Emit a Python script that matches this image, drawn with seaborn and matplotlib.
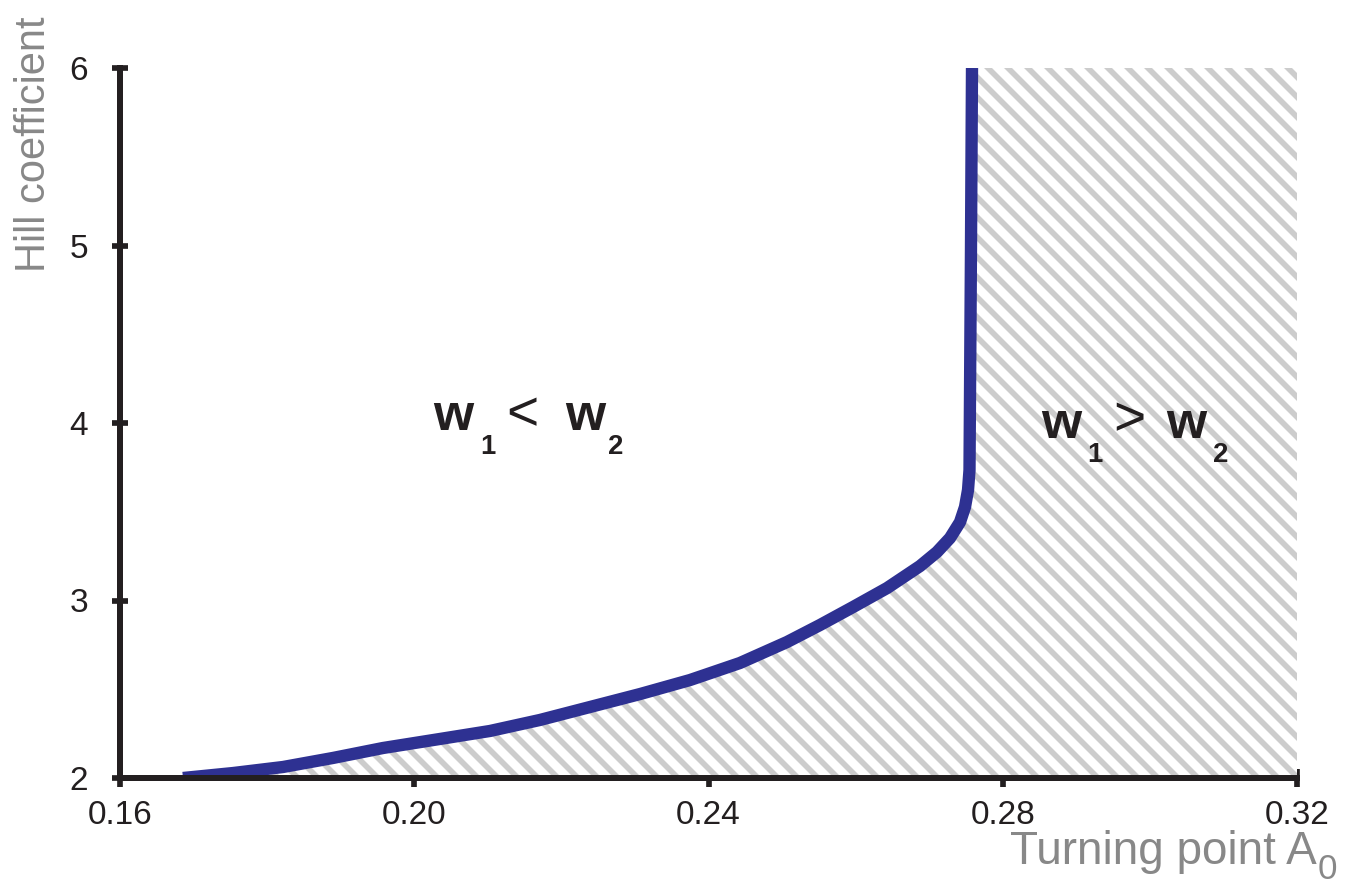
import numpy as np
import pandas as pd
import matplotlib
matplotlib.use("Agg")
import matplotlib.pyplot as plt
import seaborn as sns

# ---- data ----
a0 = [0.16856, 0.17536, 0.18216, 0.18896, 0.19575, 0.20350, 0.21030, 0.21709,
      0.22389, 0.23069, 0.23749, 0.24428, 0.25067, 0.25516, 0.25964, 0.26427,
      0.26875, 0.27106, 0.27283, 0.27419, 0.27487, 0.27528, 0.27548, 0.27568,
      0.27582]
hill = [2.000, 2.028, 2.062, 2.113, 2.169, 2.220, 2.265, 2.327,
        2.400, 2.473, 2.552, 2.648, 2.766, 2.862, 2.963, 3.070,
        3.194, 3.273, 3.352, 3.442, 3.527, 3.623, 3.735, 4.975,
        6.000]
x_ticks = [0.16, 0.20, 0.24, 0.28, 0.32]
y_ticks = [2, 3, 4, 5, 6]
x_label = "Turning point A"
x_label_sub = "0"
y_label = "Hill coefficient"

sns.set_theme(style="white")
plt.rcParams['font.family'] = ['Liberation Sans', 'DejaVu Sans']
plt.rcParams['hatch.linewidth'] = 3.4
plt.rcParams['hatch.color'] = '#cccccc'

DPI = 120
W, H = 1353, 888
fig = plt.figure(figsize=(W / DPI, H / DPI), dpi=DPI)
fig.patch.set_facecolor('white')
ax = fig.add_axes([120 / W, 1 - 778 / H, 1177 / W, 710 / H])
ax.set_facecolor('white')

df = pd.DataFrame({"a0": a0, "hill": hill})

# hatched region (w1 > w2)
ax.fill_betweenx(df["hill"], df["a0"], x_ticks[-1], facecolor='white',
                 edgecolor='#cccccc', linewidth=0, hatch='\\\\', zorder=1)

sns.lineplot(data=df, x="a0", y="hill", sort=False, estimator=None,
             color='#2e3192', linewidth=7.4, ax=ax, zorder=2,
             solid_capstyle='butt', solid_joinstyle='round')

ax.set_xlim(x_ticks[0], x_ticks[-1])
ax.set_ylim(y_ticks[0], y_ticks[-1])
ax.set_xticks(x_ticks)
ax.set_xticklabels([f"{v:.2f}" for v in x_ticks])
ax.set_yticks(y_ticks)
ax.set_yticklabels([str(v) for v in y_ticks])
ax.set_xlabel("")
ax.set_ylabel("")

spine_c = '#231f20'
for s in ['top', 'right']:
    ax.spines[s].set_visible(False)
for s in ['left', 'bottom']:
    ax.spines[s].set_color(spine_c)
    ax.spines[s].set_linewidth(3.6)
    ax.spines[s].set_zorder(3)

ax.tick_params(axis='x', direction='inout', length=10.8, width=3.4,
               color=spine_c, labelsize=20, labelcolor=spine_c, pad=8,
               bottom=True)
ax.tick_params(axis='y', direction='inout', length=10, width=3.4,
               color=spine_c, labelsize=20, labelcolor=spine_c, pad=14,
               left=True)

# axis labels
gray = '#888888'
fig.text(1317 / W, 1 - 864 / H, x_label, ha='right', va='baseline',
         fontsize=27.5, color=gray)
fig.text(1318 / W, 1 - 879 / H, x_label_sub, ha='left', va='baseline',
         fontsize=21, color=gray)
fig.text(45 / W, 1 - 272 / H, y_label, rotation=90, rotation_mode='anchor',
         ha='left', va='baseline', fontsize=25, color=gray)

# region annotations
def put(px, py, s, size, weight='bold', va='baseline'):
    fig.text(px / W, 1 - py / H, s, ha='left', va=va, fontsize=size,
             fontweight=weight, color='#231f20')

put(433, 430, "w", 31)
put(480, 454, "1", 16.5)
put(506, 416, "<", 33, weight='normal', va='center')
put(565, 430, "w", 31)
put(608, 454, "2", 16.5)

put(1041, 438, "w", 31)
put(1087, 462, "1", 16.5)
put(1113, 421, ">", 33, weight='normal', va='center')
put(1166, 438, "w", 31)
put(1213, 462, "2", 16.5)

fig.savefig("out.png", dpi=DPI, facecolor='white')
